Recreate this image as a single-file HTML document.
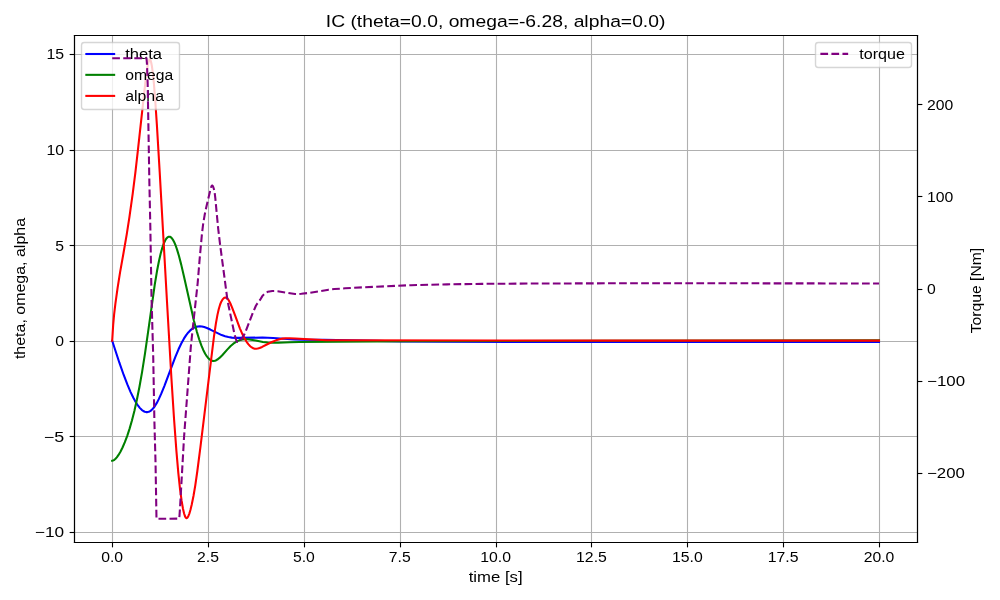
<!DOCTYPE html>
<html><head><meta charset="utf-8"><title>IC plot</title>
<style>html,body{margin:0;padding:0;background:#fff;overflow:hidden}svg{display:block;will-change:transform}</style>
</head><body>
<svg width="1000" height="600" viewBox="0 0 720 432" version="1.1">
 
 <defs>
  <style type="text/css">*{stroke-linejoin: round; stroke-linecap: butt}</style>
 </defs>
 <g id="figure_1">
  <g id="patch_1">
   <path d="M 0 432 
L 720 432 
L 720 0 
L 0 0 
z
" style="fill: #ffffff"/>
  </g>
  <g id="axes_1">
   <g id="patch_2">
    <path d="M 53.1792 390.168 
L 660.4848 390.168 
L 660.4848 25.344 
L 53.1792 25.344 
z
" style="fill: #ffffff"/>
   </g>
   <g id="matplotlib.axis_1">
    <g id="xtick_1">
     <g id="line2d_1">
      <path d="M 81.0000 390.1680 L 81.0000 25.3440" clip-path="url(#pd4e55f9c9f)" style="fill: none; stroke: #b0b0b0; stroke-width: 0.8; stroke-linecap: square"/>
     </g>
     <g id="line2d_2">
      <defs>
       <path id="m1504cfccaf" d="M 0 0 
L 0 3.5 
" style="stroke: #000000; stroke-width: 0.8"/>
      </defs>
      <g>
       <use href="#m1504cfccaf" x="81.0000" y="390.6000" style="stroke: #000000; stroke-width: 0.8"/>
      </g>
     </g>
     <g id="text_1">
      <text style="font-size: 10.000px; font-family: 'Liberation Sans', sans-serif; text-anchor: middle" x="80.784" y="404.766437" transform="rotate(-0 80.784 404.766437)" textLength="15.750" lengthAdjust="spacingAndGlyphs">0.0</text>
     </g>
    </g>
    <g id="xtick_2">
     <g id="line2d_3">
      <path d="M 150.1200 390.1680 L 150.1200 25.3440" clip-path="url(#pd4e55f9c9f)" style="fill: none; stroke: #b0b0b0; stroke-width: 0.8; stroke-linecap: square"/>
     </g>
     <g id="line2d_4">
      <g>
       <use href="#m1504cfccaf" x="150.1200" y="390.6000" style="stroke: #000000; stroke-width: 0.8"/>
      </g>
     </g>
     <g id="text_2">
      <text style="font-size: 10.000px; font-family: 'Liberation Sans', sans-serif; text-anchor: middle" x="149.796" y="404.766437" transform="rotate(-0 149.796 404.766437)" textLength="15.750" lengthAdjust="spacingAndGlyphs">2.5</text>
     </g>
    </g>
    <g id="xtick_3">
     <g id="line2d_5">
      <path d="M 219.2400 390.1680 L 219.2400 25.3440" clip-path="url(#pd4e55f9c9f)" style="fill: none; stroke: #b0b0b0; stroke-width: 0.8; stroke-linecap: square"/>
     </g>
     <g id="line2d_6">
      <g>
       <use href="#m1504cfccaf" x="219.2400" y="390.6000" style="stroke: #000000; stroke-width: 0.8"/>
      </g>
     </g>
     <g id="text_3">
      <text style="font-size: 10.000px; font-family: 'Liberation Sans', sans-serif; text-anchor: middle" x="218.808" y="404.766437" transform="rotate(-0 218.808 404.766437)" textLength="15.750" lengthAdjust="spacingAndGlyphs">5.0</text>
     </g>
    </g>
    <g id="xtick_4">
     <g id="line2d_7">
      <path d="M 288.3600 390.1680 L 288.3600 25.3440" clip-path="url(#pd4e55f9c9f)" style="fill: none; stroke: #b0b0b0; stroke-width: 0.8; stroke-linecap: square"/>
     </g>
     <g id="line2d_8">
      <g>
       <use href="#m1504cfccaf" x="288.3600" y="390.6000" style="stroke: #000000; stroke-width: 0.8"/>
      </g>
     </g>
     <g id="text_4">
      <text style="font-size: 10.000px; font-family: 'Liberation Sans', sans-serif; text-anchor: middle" x="287.82" y="404.766437" transform="rotate(-0 287.82 404.766437)" textLength="15.750" lengthAdjust="spacingAndGlyphs">7.5</text>
     </g>
    </g>
    <g id="xtick_5">
     <g id="line2d_9">
      <path d="M 357.4800 390.1680 L 357.4800 25.3440" clip-path="url(#pd4e55f9c9f)" style="fill: none; stroke: #b0b0b0; stroke-width: 0.8; stroke-linecap: square"/>
     </g>
     <g id="line2d_10">
      <g>
       <use href="#m1504cfccaf" x="357.4800" y="390.6000" style="stroke: #000000; stroke-width: 0.8"/>
      </g>
     </g>
     <g id="text_5">
      <text style="font-size: 10.000px; font-family: 'Liberation Sans', sans-serif; text-anchor: middle" x="356.832" y="404.766437" transform="rotate(-0 356.832 404.766437)" textLength="22.140" lengthAdjust="spacingAndGlyphs">10.0</text>
     </g>
    </g>
    <g id="xtick_6">
     <g id="line2d_11">
      <path d="M 425.8800 390.1680 L 425.8800 25.3440" clip-path="url(#pd4e55f9c9f)" style="fill: none; stroke: #b0b0b0; stroke-width: 0.8; stroke-linecap: square"/>
     </g>
     <g id="line2d_12">
      <g>
       <use href="#m1504cfccaf" x="425.8800" y="390.6000" style="stroke: #000000; stroke-width: 0.8"/>
      </g>
     </g>
     <g id="text_6">
      <text style="font-size: 10.000px; font-family: 'Liberation Sans', sans-serif; text-anchor: middle" x="425.844" y="404.766437" transform="rotate(-0 425.844 404.766437)" textLength="22.140" lengthAdjust="spacingAndGlyphs">12.5</text>
     </g>
    </g>
    <g id="xtick_7">
     <g id="line2d_13">
      <path d="M 495.0000 390.1680 L 495.0000 25.3440" clip-path="url(#pd4e55f9c9f)" style="fill: none; stroke: #b0b0b0; stroke-width: 0.8; stroke-linecap: square"/>
     </g>
     <g id="line2d_14">
      <g>
       <use href="#m1504cfccaf" x="495.0000" y="390.6000" style="stroke: #000000; stroke-width: 0.8"/>
      </g>
     </g>
     <g id="text_7">
      <text style="font-size: 10.000px; font-family: 'Liberation Sans', sans-serif; text-anchor: middle" x="494.856" y="404.766437" transform="rotate(-0 494.856 404.766437)" textLength="22.140" lengthAdjust="spacingAndGlyphs">15.0</text>
     </g>
    </g>
    <g id="xtick_8">
     <g id="line2d_15">
      <path d="M 564.1200 390.1680 L 564.1200 25.3440" clip-path="url(#pd4e55f9c9f)" style="fill: none; stroke: #b0b0b0; stroke-width: 0.8; stroke-linecap: square"/>
     </g>
     <g id="line2d_16">
      <g>
       <use href="#m1504cfccaf" x="564.1200" y="390.6000" style="stroke: #000000; stroke-width: 0.8"/>
      </g>
     </g>
     <g id="text_8">
      <text style="font-size: 10.000px; font-family: 'Liberation Sans', sans-serif; text-anchor: middle" x="563.868" y="404.766437" transform="rotate(-0 563.868 404.766437)" textLength="22.140" lengthAdjust="spacingAndGlyphs">17.5</text>
     </g>
    </g>
    <g id="xtick_9">
     <g id="line2d_17">
      <path d="M 633.2400 390.1680 L 633.2400 25.3440" clip-path="url(#pd4e55f9c9f)" style="fill: none; stroke: #b0b0b0; stroke-width: 0.8; stroke-linecap: square"/>
     </g>
     <g id="line2d_18">
      <g>
       <use href="#m1504cfccaf" x="633.2400" y="390.6000" style="stroke: #000000; stroke-width: 0.8"/>
      </g>
     </g>
     <g id="text_9">
      <text style="font-size: 10.000px; font-family: 'Liberation Sans', sans-serif; text-anchor: middle" x="632.88" y="404.766437" transform="rotate(-0 632.88 404.766437)" textLength="22.050" lengthAdjust="spacingAndGlyphs">20.0</text>
     </g>
    </g>
    <g id="text_10">
     <text style="font-size: 10.000px; font-family: 'Liberation Sans', sans-serif; text-anchor: middle" x="356.8320" y="419.1646" transform="rotate(-0 356.8320 419.1646)" textLength="38.790" lengthAdjust="spacingAndGlyphs">time [s]</text>
    </g>
   </g>
   <g id="matplotlib.axis_2">
    <g id="ytick_1">
     <g id="line2d_19">
      <path d="M 53.1792 383.4000 L 660.4848 383.4000" clip-path="url(#pd4e55f9c9f)" style="fill: none; stroke: #b0b0b0; stroke-width: 0.8; stroke-linecap: square"/>
     </g>
     <g id="line2d_20">
      <defs>
       <path id="m5d545ce8f8" d="M 0 0 
L -3.5 0 
" style="stroke: #000000; stroke-width: 0.8"/>
      </defs>
      <g>
       <use href="#m5d545ce8f8" x="53.6400" y="383.4000" style="stroke: #000000; stroke-width: 0.8"/>
      </g>
     </g>
     <g id="text_11">
      <text style="font-size: 10.000px; font-family: 'Liberation Sans', sans-serif; text-anchor: end" x="46.1792" y="386.690821" transform="rotate(-0 46.1792 386.690821)" textLength="21.060" lengthAdjust="spacingAndGlyphs">−10</text>
     </g>
    </g>
    <g id="ytick_2">
     <g id="line2d_21">
      <path d="M 53.1792 314.2800 L 660.4848 314.2800" clip-path="url(#pd4e55f9c9f)" style="fill: none; stroke: #b0b0b0; stroke-width: 0.8; stroke-linecap: square"/>
     </g>
     <g id="line2d_22">
      <g>
       <use href="#m5d545ce8f8" x="53.6400" y="314.2800" style="stroke: #000000; stroke-width: 0.8"/>
      </g>
     </g>
     <g id="text_12">
      <text style="font-size: 10.000px; font-family: 'Liberation Sans', sans-serif; text-anchor: end" x="46.1792" y="317.915796" transform="rotate(-0 46.1792 317.915796)" textLength="14.670" lengthAdjust="spacingAndGlyphs">−5</text>
     </g>
    </g>
    <g id="ytick_3">
     <g id="line2d_23">
      <path d="M 53.1792 245.8800 L 660.4848 245.8800" clip-path="url(#pd4e55f9c9f)" style="fill: none; stroke: #b0b0b0; stroke-width: 0.8; stroke-linecap: square"/>
     </g>
     <g id="line2d_24">
      <g>
       <use href="#m5d545ce8f8" x="53.6400" y="245.8800" style="stroke: #000000; stroke-width: 0.8"/>
      </g>
     </g>
     <g id="text_13">
      <text style="font-size: 10.000px; font-family: 'Liberation Sans', sans-serif; text-anchor: end" x="46.1792" y="249.14077" transform="rotate(-0 46.1792 249.14077)" textLength="6.300" lengthAdjust="spacingAndGlyphs">0</text>
     </g>
    </g>
    <g id="ytick_4">
     <g id="line2d_25">
      <path d="M 53.1792 176.7600 L 660.4848 176.7600" clip-path="url(#pd4e55f9c9f)" style="fill: none; stroke: #b0b0b0; stroke-width: 0.8; stroke-linecap: square"/>
     </g>
     <g id="line2d_26">
      <g>
       <use href="#m5d545ce8f8" x="53.6400" y="176.7600" style="stroke: #000000; stroke-width: 0.8"/>
      </g>
     </g>
     <g id="text_14">
      <text style="font-size: 10.000px; font-family: 'Liberation Sans', sans-serif; text-anchor: end" x="46.1792" y="180.365745" transform="rotate(-0 46.1792 180.365745)" textLength="6.300" lengthAdjust="spacingAndGlyphs">5</text>
     </g>
    </g>
    <g id="ytick_5">
     <g id="line2d_27">
      <path d="M 53.1792 108.3600 L 660.4848 108.3600" clip-path="url(#pd4e55f9c9f)" style="fill: none; stroke: #b0b0b0; stroke-width: 0.8; stroke-linecap: square"/>
     </g>
     <g id="line2d_28">
      <g>
       <use href="#m5d545ce8f8" x="53.6400" y="108.3600" style="stroke: #000000; stroke-width: 0.8"/>
      </g>
     </g>
     <g id="text_15">
      <text style="font-size: 10.000px; font-family: 'Liberation Sans', sans-serif; text-anchor: end" x="46.1792" y="111.590719" transform="rotate(-0 46.1792 111.590719)" textLength="12.690" lengthAdjust="spacingAndGlyphs">10</text>
     </g>
    </g>
    <g id="ytick_6">
     <g id="line2d_29">
      <path d="M 53.1792 39.2400 L 660.4848 39.2400" clip-path="url(#pd4e55f9c9f)" style="fill: none; stroke: #b0b0b0; stroke-width: 0.8; stroke-linecap: square"/>
     </g>
     <g id="line2d_30">
      <g>
       <use href="#m5d545ce8f8" x="53.6400" y="39.2400" style="stroke: #000000; stroke-width: 0.8"/>
      </g>
     </g>
     <g id="text_16">
      <text style="font-size: 10.000px; font-family: 'Liberation Sans', sans-serif; text-anchor: end" x="46.1792" y="42.815694" transform="rotate(-0 46.1792 42.815694)" textLength="12.690" lengthAdjust="spacingAndGlyphs">15</text>
     </g>
    </g>
    <g id="text_17">
     <text style="font-size: 10.000px; font-family: 'Liberation Sans', sans-serif; text-anchor: middle" x="18.2748" y="207.7560" transform="rotate(-90 18.2748 207.7560)" textLength="101.610" lengthAdjust="spacingAndGlyphs">theta, omega, alpha</text>
    </g>
   </g>
   <g id="line2d_31">
    <path d="M 80.784 245.341551 
L 85.890888 260.977709 
L 89.06544 269.989149 
L 91.687896 276.805391 
L 94.034304 282.300605 
L 96.104664 286.582668 
L 97.898976 289.795167 
L 99.41724 292.104026 
L 100.79748 293.840788 
L 102.039696 295.08161 
L 103.143888 295.908793 
L 104.24808 296.459703 
L 105.214248 296.702835 
L 106.180416 296.712762 
L 107.146584 296.481284 
L 108.112752 296.003128 
L 109.07892 295.277412 
L 110.183112 294.149895 
L 111.425328 292.516693 
L 112.805568 290.282164 
L 114.323832 287.371379 
L 116.118144 283.420263 
L 118.326528 277.982655 
L 121.639104 269.156228 
L 126.193896 257.096058 
L 128.540304 251.491866 
L 130.610664 247.117625 
L 132.404976 243.841231 
L 134.061264 241.278994 
L 135.579528 239.332515 
L 136.959768 237.894249 
L 138.340008 236.761597 
L 139.720248 235.920297 
L 141.100488 235.352377 
L 142.480728 235.036213 
L 143.860968 234.94703 
L 145.379232 235.079097 
L 147.03552 235.456051 
L 148.967856 236.14002 
L 151.452288 237.286189 
L 159.595704 241.272017 
L 162.080136 242.125504 
L 164.426544 242.702729 
L 166.910976 243.08432 
L 169.671456 243.279684 
L 173.26008 243.290009 
L 188.994816 243.035977 
L 196.586136 243.370795 
L 206.937936 244.022307 
L 211.9068 244.366397 
L 217.979856 244.578151 
L 233.162496 244.68385 
L 251.795736 244.949387 
L 271.395144 245.411038 
L 288.924192 245.820897 
L 319.427496 246.082023 
L 374.361048 246.19951 
L 480.225456 246.240569 
L 632.88 246.169945 
L 632.88 246.169945 
" clip-path="url(#pd4e55f9c9f)" style="fill: none; stroke: #0000ff; stroke-width: 1.5; stroke-linecap: square"/>
   </g>
   <g id="line2d_32">
    <path d="M 80.784 331.722983 
L 81.336096 331.62484 
L 82.026216 331.282005 
L 82.992384 330.511572 
L 84.096576 329.304124 
L 85.338792 327.579615 
L 86.719032 325.244794 
L 88.237296 322.213014 
L 89.893584 318.376474 
L 91.549872 313.970687 
L 93.20616 308.94601 
L 95.000472 302.738624 
L 96.794784 295.676865 
L 98.589096 287.679915 
L 100.383408 278.642902 
L 102.315744 267.702182 
L 104.386104 254.614 
L 106.732512 238.234353 
L 111.425328 204.936225 
L 113.081616 194.976511 
L 114.461856 187.875965 
L 115.704072 182.49244 
L 116.946288 178.0869 
L 118.05048 174.998006 
L 119.016648 172.94021 
L 119.844792 171.660224 
L 120.534912 170.935213 
L 121.225032 170.518989 
L 121.777128 170.405969 
L 122.329224 170.485571 
L 123.019344 170.850535 
L 123.709464 171.502526 
L 124.537608 172.650121 
L 125.365752 174.178445 
L 126.33192 176.414623 
L 127.436112 179.520647 
L 128.816352 184.131397 
L 130.47264 190.536455 
L 132.543 199.490644 
L 139.582224 230.765961 
L 141.652584 238.556735 
L 143.446896 244.425055 
L 144.96516 248.678648 
L 146.3454 251.96079 
L 147.72564 254.681983 
L 148.967856 256.648819 
L 150.072048 258.010054 
L 151.038216 258.899562 
L 152.004384 259.506836 
L 152.970552 259.834408 
L 153.798696 259.899623 
L 154.764864 259.739398 
L 155.731032 259.34849 
L 156.835224 258.661324 
L 158.215464 257.52206 
L 160.009776 255.731598 
L 163.5984 251.743475 
L 166.082832 249.15969 
L 168.015168 247.476256 
L 169.671456 246.31693 
L 171.327744 245.43127 
L 172.984032 244.809365 
L 174.64032 244.427855 
L 176.434632 244.250725 
L 178.366968 244.285302 
L 180.713376 244.562043 
L 184.163976 245.228481 
L 189.270864 246.190156 
L 192.721464 246.597876 
L 196.310088 246.788104 
L 200.312784 246.767344 
L 208.870272 246.377161 
L 215.495424 246.225835 
L 298.585872 245.757939 
L 433.573344 245.374455 
L 632.88 245.089747 
L 632.88 245.089747 
" clip-path="url(#pd4e55f9c9f)" style="fill: none; stroke: #008000; stroke-width: 1.5; stroke-linecap: square"/>
   </g>
   <g id="line2d_33">
    <path d="M 80.784 245.34156 
L 81.47412 234.109452 
L 82.16424 226.375782 
L 83.130408 218.193371 
L 84.648672 207.456467 
L 86.442984 196.131307 
L 88.927416 182.1777 
L 91.273824 168.620638 
L 93.20616 156.112669 
L 95.552568 139.341899 
L 97.484904 124.141586 
L 99.41724 106.975426 
L 104.662152 59.337501 
L 105.904368 49.845634 
L 106.594488 45.804329 
L 107.146584 43.653445 
L 107.560656 42.855126 
L 107.836704 42.73497 
L 108.112752 42.934579 
L 108.3888 43.445052 
L 108.802872 44.774165 
L 109.354968 47.554227 
L 110.045088 52.593584 
L 110.735208 59.317186 
L 111.701376 71.268465 
L 112.943592 89.74029 
L 115.013952 124.488397 
L 120.258864 217.583894 
L 123.433416 272.564969 
L 125.365752 302.406093 
L 127.02204 324.79345 
L 128.40228 340.614417 
L 129.644496 352.28598 
L 130.748688 360.489323 
L 131.714856 366.085481 
L 132.543 369.717921 
L 133.23312 371.799267 
L 133.785216 372.763019 
L 134.199288 373.048536 
L 134.61336 372.984389 
L 135.027432 372.607252 
L 135.579528 371.680917 
L 136.269648 369.963466 
L 137.097792 367.234906 
L 138.06396 363.267227 
L 139.306176 357.124153 
L 140.548392 349.798431 
L 142.066656 339.291023 
L 144.27504 322.13865 
L 150.48612 271.33289 
L 154.074744 242.248411 
L 155.454984 232.833334 
L 156.559176 226.702428 
L 157.525344 222.469751 
L 158.491512 219.252789 
L 159.319656 217.231673 
L 160.1478 215.779782 
L 160.975944 214.801968 
L 161.666064 214.339215 
L 162.21816 214.208627 
L 162.770256 214.297837 
L 163.322352 214.606473 
L 164.012472 215.289058 
L 164.840616 216.499553 
L 165.806784 218.355607 
L 167.049 221.25788 
L 169.11936 226.772551 
L 172.707984 236.379598 
L 174.502296 240.532635 
L 176.02056 243.552869 
L 177.538824 246.078078 
L 178.919064 247.942702 
L 180.16128 249.267998 
L 181.265472 250.156638 
L 182.369664 250.762669 
L 183.335832 251.053951 
L 184.440024 251.130695 
L 185.544216 250.984347 
L 186.924456 250.569958 
L 188.718768 249.788607 
L 192.445416 247.834897 
L 195.757992 246.216784 
L 198.656496 245.059097 
L 201.278952 244.242725 
L 203.487336 243.788552 
L 205.833744 243.524032 
L 208.4562 243.497865 
L 212.734944 243.706108 
L 235.094832 244.989303 
L 241.58196 245.017548 
L 361.248768 245.128359 
L 457.313472 245.23355 
L 632.88 245.23355 
L 632.88 245.23355 
" clip-path="url(#pd4e55f9c9f)" style="fill: none; stroke: #ff0000; stroke-width: 1.5; stroke-linecap: square"/>
   </g>
   <g id="patch_3">
    <path d="M 53.6400 390.6000 L 53.6400 25.5600" style="fill: none; stroke: #000000; stroke-width: 0.8; stroke-linejoin: miter; stroke-linecap: square"/>
   </g>
   <g id="patch_4">
    <path d="M 660.6000 390.6000 L 660.6000 25.5600" style="fill: none; stroke: #000000; stroke-width: 0.8; stroke-linejoin: miter; stroke-linecap: square"/>
   </g>
   <g id="patch_5">
    <path d="M 53.6400 390.6000 L 660.6000 390.6000" style="fill: none; stroke: #000000; stroke-width: 0.8; stroke-linejoin: miter; stroke-linecap: square"/>
   </g>
   <g id="patch_6">
    <path d="M 53.6400 25.5600 L 660.6000 25.5600" style="fill: none; stroke: #000000; stroke-width: 0.8; stroke-linejoin: miter; stroke-linecap: square"/>
   </g>
   <g id="text_18">
    <text style="font-size: 12.000px; font-family: 'Liberation Sans', sans-serif; text-anchor: middle" x="356.832" y="19.344" transform="rotate(-0 356.832 19.344)" textLength="244.530" lengthAdjust="spacingAndGlyphs">IC (theta=0.0, omega=-6.28, alpha=0.0)</text>
   </g>
   <g id="legend_1">
    <g id="patch_7">
     <path d="M 60.6816 78.8400 L 127.2384 78.8400 Q 129.2400 78.8400 129.2400 76.8384 L 129.2400 32.6016 Q 129.2400 30.6000 127.2384 30.6000 L 60.6816 30.6000 Q 58.6800 30.6000 58.6800 32.6016 L 58.6800 76.8384 Q 58.6800 78.8400 60.6816 78.8400 z" style="fill: #ffffff; opacity: 0.8; stroke: #cccccc; stroke-linejoin: miter"/>
    </g>
    <g id="line2d_34">
     <path d="M 62.1792 38.880000 
L 72.1792 38.880000 
L 82.1792 38.880000 
" style="fill: none; stroke: #0000ff; stroke-width: 1.5; stroke-linecap: square"/>
    </g>
    <g id="text_19">
     <text style="font-size: 10.000px; font-family: 'Liberation Sans', sans-serif; text-anchor: start" x="90.1792" y="42.380000" transform="rotate(-0 90.1792 42.380000)" textLength="26.550" lengthAdjust="spacingAndGlyphs">theta</text>
    </g>
    <g id="line2d_35">
     <path d="M 62.1792 53.892000 
L 72.1792 53.892000 
L 82.1792 53.892000 
" style="fill: none; stroke: #008000; stroke-width: 1.5; stroke-linecap: square"/>
    </g>
    <g id="text_20">
     <text style="font-size: 10.000px; font-family: 'Liberation Sans', sans-serif; text-anchor: start" x="90.1792" y="57.392000" transform="rotate(-0 90.1792 57.392000)" textLength="34.560" lengthAdjust="spacingAndGlyphs">omega</text>
    </g>
    <g id="line2d_36">
     <path d="M 62.1792 69.048000 
L 72.1792 69.048000 
L 82.1792 69.048000 
" style="fill: none; stroke: #ff0000; stroke-width: 1.5; stroke-linecap: square"/>
    </g>
    <g id="text_21">
     <text style="font-size: 10.000px; font-family: 'Liberation Sans', sans-serif; text-anchor: start" x="90.1792" y="72.548000" transform="rotate(-0 90.1792 72.548000)" textLength="27.900" lengthAdjust="spacingAndGlyphs">alpha</text>
    </g>
   </g>
  </g>
  <g id="axes_2">
   <g id="matplotlib.axis_3">
    <g id="ytick_7">
     <g id="line2d_37">
      <defs>
       <path id="m33c4ce201d" d="M 0 0 
L 3.5 0 
" style="stroke: #000000; stroke-width: 0.8"/>
      </defs>
      <g>
       <use href="#m33c4ce201d" x="660.6000" y="340.9200" style="stroke: #000000; stroke-width: 0.8"/>
      </g>
     </g>
     <g id="text_22">
      <text style="font-size: 10.000px; font-family: 'Liberation Sans', sans-serif; text-anchor: start" x="667.4848" y="344.218491" transform="rotate(-0 667.4848 344.218491)" textLength="27.270" lengthAdjust="spacingAndGlyphs">−200</text>
     </g>
    </g>
    <g id="ytick_8">
     <g id="line2d_38">
      <g>
       <use href="#m33c4ce201d" x="660.6000" y="274.6800" style="stroke: #000000; stroke-width: 0.8"/>
      </g>
     </g>
     <g id="text_23">
      <text style="font-size: 10.000px; font-family: 'Liberation Sans', sans-serif; text-anchor: start" x="667.4848" y="277.886855" transform="rotate(-0 667.4848 277.886855)" textLength="27.360" lengthAdjust="spacingAndGlyphs">−100</text>
     </g>
    </g>
    <g id="ytick_9">
     <g id="line2d_39">
      <g>
       <use href="#m33c4ce201d" x="660.6000" y="208.4400" style="stroke: #000000; stroke-width: 0.8"/>
      </g>
     </g>
     <g id="text_24">
      <text style="font-size: 10.000px; font-family: 'Liberation Sans', sans-serif; text-anchor: start" x="667.4848" y="211.555219" transform="rotate(-0 667.4848 211.555219)" textLength="6.300" lengthAdjust="spacingAndGlyphs">0</text>
     </g>
    </g>
    <g id="ytick_10">
     <g id="line2d_40">
      <g>
       <use href="#m33c4ce201d" x="660.6000" y="141.4800" style="stroke: #000000; stroke-width: 0.8"/>
      </g>
     </g>
     <g id="text_25">
      <text style="font-size: 10.000px; font-family: 'Liberation Sans', sans-serif; text-anchor: start" x="667.4848" y="145.223582" transform="rotate(-0 667.4848 145.223582)" textLength="18.990" lengthAdjust="spacingAndGlyphs">100</text>
     </g>
    </g>
    <g id="ytick_11">
     <g id="line2d_41">
      <g>
       <use href="#m33c4ce201d" x="660.6000" y="75.2400" style="stroke: #000000; stroke-width: 0.8"/>
      </g>
     </g>
     <g id="text_26">
      <text style="font-size: 10.000px; font-family: 'Liberation Sans', sans-serif; text-anchor: start" x="667.4848" y="78.891946" transform="rotate(-0 667.4848 78.891946)" textLength="18.900" lengthAdjust="spacingAndGlyphs">200</text>
     </g>
    </g>
    <g id="text_27">
     <text style="font-size: 10.000px; font-family: 'Liberation Sans', sans-serif; text-anchor: middle" x="706.5504" y="209.1960" transform="rotate(-90 706.5504 209.1960)" textLength="61.560" lengthAdjust="spacingAndGlyphs">Torque [Nm]</text>
    </g>
   </g>
   <g id="line2d_42">
    <path d="M 80.784 41.903509 
L 105.352272 41.903509 
L 105.490296 42.09788 
L 105.766344 45.284605 
L 106.180416 55.492743 
L 106.31844 60.177906 
L 107.560656 132.092076 
L 108.250776 163.995929 
L 109.07892 213.962521 
L 110.321136 256.891217 
L 111.14928 302.644701 
L 111.977424 332.755905 
L 112.667544 373.509302 
L 113.357664 373.536491 
L 128.954376 373.428019 
L 129.230424 371.38062 
L 129.644496 365.074907 
L 132.543 314.245738 
L 137.37384 249.95312 
L 138.616056 237.891279 
L 142.342704 203.658641 
L 143.722944 186.768552 
L 145.379232 168.637816 
L 146.207376 161.676724 
L 147.311568 155.017992 
L 148.553784 149.032067 
L 151.86636 135.072336 
L 152.418456 133.822726 
L 152.694504 133.576229 
L 152.970552 133.633525 
L 153.2466 133.987015 
L 153.660672 134.952862 
L 154.212768 136.759622 
L 154.488816 138.158337 
L 155.040912 142.8501 
L 156.283128 156.170138 
L 157.111272 164.745896 
L 158.491512 176.261715 
L 163.5984 214.761809 
L 164.564568 220.123914 
L 168.705288 239.935742 
L 169.80948 244.127191 
L 170.361576 245.572682 
L 170.775648 246.152151 
L 171.051696 246.23916 
L 171.603792 246.115555 
L 172.293912 245.699717 
L 173.122056 244.888664 
L 174.226248 243.43085 
L 176.02056 240.599057 
L 176.848704 238.668498 
L 181.955592 225.400212 
L 184.163976 220.30127 
L 184.99212 218.91585 
L 186.37236 217.142006 
L 187.338528 215.775229 
L 188.994816 213.031577 
L 190.51308 211.531177 
L 191.755296 210.6077 
L 192.721464 210.139052 
L 193.96368 209.824436 
L 196.03404 209.492177 
L 197.690328 209.464587 
L 199.898712 209.685354 
L 205.971768 210.659753 
L 212.458896 211.685568 
L 214.391232 211.744528 
L 217.013688 211.557407 
L 222.94872 210.840039 
L 230.54004 209.58635 
L 236.613096 208.555635 
L 240.753816 208.137426 
L 248.48316 207.575557 
L 262.699632 206.795558 
L 295.963416 205.331772 
L 321.911928 204.73262 
L 347.032296 204.374633 
L 380.29608 204.163502 
L 437.57604 203.979873 
L 545.510808 203.997483 
L 632.88 204.119158 
L 632.88 204.119158 
" clip-path="url(#p6971569aa7)" style="fill: none; stroke-dasharray: 5.55,2.4; stroke-dashoffset: 0; stroke: #800080; stroke-width: 1.5"/>
   </g>
   <g id="patch_8">
    <path d="M 53.6400 390.6000 L 53.6400 25.5600" style="fill: none; stroke: #000000; stroke-width: 0.8; stroke-linejoin: miter; stroke-linecap: square"/>
   </g>
   <g id="patch_9">
    <path d="M 660.6000 390.6000 L 660.6000 25.5600" style="fill: none; stroke: #000000; stroke-width: 0.8; stroke-linejoin: miter; stroke-linecap: square"/>
   </g>
   <g id="patch_10">
    <path d="M 53.6400 390.6000 L 660.6000 390.6000" style="fill: none; stroke: #000000; stroke-width: 0.8; stroke-linejoin: miter; stroke-linecap: square"/>
   </g>
   <g id="patch_11">
    <path d="M 53.6400 25.5600 L 660.6000 25.5600" style="fill: none; stroke: #000000; stroke-width: 0.8; stroke-linejoin: miter; stroke-linecap: square"/>
   </g>
   <g id="legend_2">
    <g id="patch_12">
     <path d="M 589.1616 48.6000 L 654.2784 48.6000 Q 656.2800 48.6000 656.2800 46.5984 L 656.2800 32.6016 Q 656.2800 30.6000 654.2784 30.6000 L 589.1616 30.6000 Q 587.1600 30.6000 587.1600 32.6016 L 587.1600 46.5984 Q 587.1600 48.6000 589.1616 48.6000 z" style="fill: #ffffff; opacity: 0.8; stroke: #cccccc; stroke-linejoin: miter"/>
    </g>
    <g id="line2d_43">
     <path d="M 590.670738 38.808000 
L 600.670738 38.808000 
L 610.670738 38.808000 
" style="fill: none; stroke-dasharray: 5.55,2.4; stroke-dashoffset: 0; stroke: #800080; stroke-width: 1.5"/>
    </g>
    <g id="text_28">
     <text style="font-size: 10.000px; font-family: 'Liberation Sans', sans-serif; text-anchor: start" x="618.670738" y="42.308000" transform="rotate(-0 618.670738 42.308000)" textLength="32.850" lengthAdjust="spacingAndGlyphs">torque</text>
    </g>
   </g>
  </g>
 </g>
 <defs>
  <clipPath id="pd4e55f9c9f">
   <rect x="53.1792" y="25.344" width="607.3056" height="364.824"/>
  </clipPath>
  <clipPath id="p6971569aa7">
   <rect x="53.1792" y="25.344" width="607.3056" height="364.824"/>
  </clipPath>
 </defs>
</svg>

</body></html>
